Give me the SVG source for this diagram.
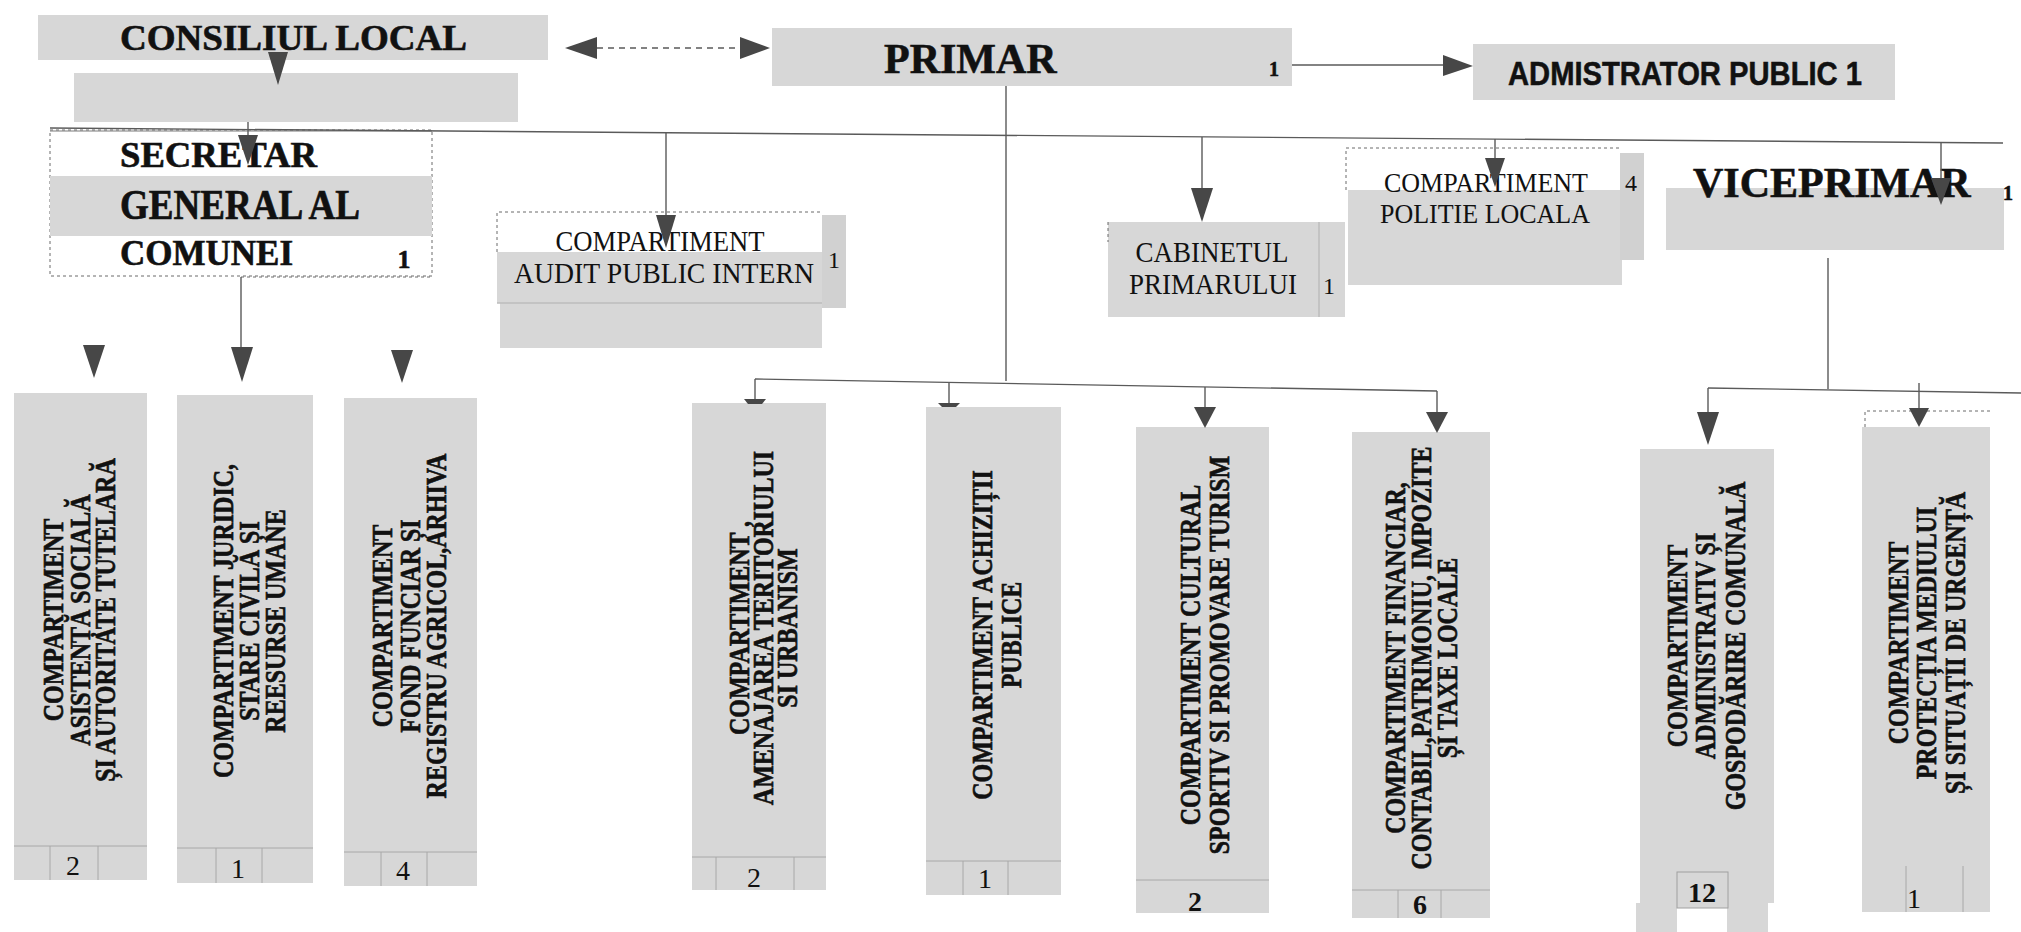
<svg xmlns="http://www.w3.org/2000/svg" width="2021" height="932" viewBox="0 0 2021 932">
<style>
.box{fill:#d7d7d7}
.strip{fill:#d1d1d1}
.wht{fill:#ffffff}
.dash{fill:none;stroke:#6a6a6a;stroke-width:1;stroke-dasharray:3 3}
.thin{fill:none;stroke:#7a7a7a;stroke-width:1}
.ln{fill:none;stroke:#5a5a5a;stroke-width:1.4}
.dl{fill:none;stroke:#5a5a5a;stroke-width:1.4;stroke-dasharray:6 5}
.ah{fill:#474747}
.cell{fill:none;stroke:#a8a8a8;stroke-width:1}
.tb{font-family:"Liberation Serif","Times New Roman",serif;font-weight:bold;fill:#111;stroke:#111;stroke-width:0.6}
.tr{font-family:"Liberation Serif","Times New Roman",serif;fill:#111}
.ts{font-family:"Liberation Sans",Arial,sans-serif;font-weight:bold;fill:#111;stroke:#111;stroke-width:0.5}
.vt{font-family:"Liberation Serif","Times New Roman",serif;font-weight:bold;font-size:24px;fill:#111;stroke:#111;stroke-width:0.55;text-anchor:middle}
.num{font-family:"Liberation Serif","Times New Roman",serif;font-size:28px;fill:#111;text-anchor:middle}
.numb{font-family:"Liberation Serif","Times New Roman",serif;font-size:28px;font-weight:bold;fill:#111;text-anchor:middle}
</style>

<g id="n-consiliul">
<rect class="box" x="38" y="15" width="510" height="45"/>
<text class="tb" x="120" y="50" font-size="36" textLength="347" lengthAdjust="spacingAndGlyphs">CONSILIUL LOCAL</text>
</g>
<g id="n-blank">
<rect class="box" x="74" y="73" width="444" height="49"/>
</g>
<g id="n-primar">
<rect class="box" x="772" y="28" width="520" height="58"/>
<text class="tb" x="884" y="73" font-size="42">PRIMAR</text>
<text class="tb" x="1274" y="76" font-size="20" text-anchor="middle">1</text>
</g>
<g id="n-admin">
<rect class="box" x="1473" y="44" width="422" height="56"/>
<text class="ts" font-size="30" transform="translate(1508,85) scale(1,1.12)" textLength="354" lengthAdjust="spacingAndGlyphs">ADMISTRATOR PUBLIC 1</text>
</g>
<g id="n-secretar">
<rect class="wht" x="50" y="130" width="382" height="146"/>
<rect class="dash" x="50" y="130" width="382" height="146"/>
<line class="thin" x1="50" y1="131" x2="432" y2="131"/>
<rect class="box" x="50" y="176" width="382" height="60"/>
<line class="dash" x1="241" y1="277" x2="432" y2="277"/>
<text class="tb" x="120" y="167" font-size="35" textLength="197" lengthAdjust="spacingAndGlyphs">SECRETAR</text>
<text class="tb" font-size="36" transform="translate(120,219) scale(1,1.15)" textLength="240" lengthAdjust="spacingAndGlyphs">GENERAL AL</text>
<text class="tb" x="120" y="265" font-size="35">COMUNEI</text>
<text class="tb" x="404" y="268" font-size="26" text-anchor="middle">1</text>
</g>
<g id="n-audit">
<rect class="wht" x="497" y="212" width="325" height="40"/>
<path class="dash" d="M497,252 V212 H822"/>
<rect class="box" x="497" y="252" width="325" height="51"/>
<rect class="box" x="500" y="303" width="322" height="45"/>
<line x1="497" y1="303" x2="822" y2="303" stroke="#bdbdbd" stroke-width="1.5"/>
<rect class="strip" x="822" y="215" width="24" height="93"/>
<text class="tr" font-size="27" text-anchor="middle" transform="translate(660,251) scale(1,1.08)" textLength="209" lengthAdjust="spacingAndGlyphs">COMPARTIMENT</text>
<text class="tr" font-size="27" text-anchor="middle" transform="translate(664,283) scale(1,1.08)" textLength="300" lengthAdjust="spacingAndGlyphs">AUDIT PUBLIC INTERN</text>
<text class="tr" x="834" y="268" font-size="24" text-anchor="middle" fill="#555">1</text>
</g>
<g id="n-cabinet">
<rect class="box" x="1108" y="222" width="237" height="95"/>
<line x1="1319" y1="222" x2="1319" y2="317" stroke="#bdbdbd" stroke-width="1.5"/>
<line class="dash" x1="1108" y1="222" x2="1108" y2="242"/>
<text class="tr" font-size="27" text-anchor="middle" transform="translate(1212,262) scale(1,1.12)">CABINETUL</text>
<text class="tr" font-size="27" text-anchor="middle" transform="translate(1213,294) scale(1,1.12)">PRIMARULUI</text>
<text class="tr" x="1329" y="294" font-size="24" text-anchor="middle">1</text>
</g>
<g id="n-politie">
<rect class="wht" x="1346" y="148" width="276" height="42"/>
<path class="dash" d="M1346,190 V148 H1622"/>
<rect class="box" x="1348" y="190" width="274" height="95"/>
<rect class="strip" x="1620" y="153" width="24" height="107"/>
<text class="tr" font-size="26" text-anchor="middle" transform="translate(1486,192) scale(1,1.08)">COMPARTIMENT</text>
<text class="tr" font-size="26" text-anchor="middle" transform="translate(1485,223) scale(1,1.08)">POLITIE LOCALA</text>
<text class="tr" x="1631" y="191" font-size="24" text-anchor="middle" fill="#555">4</text>
</g>
<g id="n-vice">
<rect class="box" x="1666" y="188" width="338" height="62"/>
<text class="tb" x="1693" y="197" font-size="42">VICEPRIMAR</text>
<text class="tb" x="2008" y="200" font-size="20" text-anchor="middle">1</text>
</g>

<g id="n-b1">
<rect class="box" x="14" y="393" width="133" height="487"/>
<path class="cell" d="M14,846 H147 M50,846 V880 M98,846 V880"/>
<text class="num" x="73" y="875">2</text>
<g transform="translate(63,620) rotate(-90) scale(1,1.2)">
<text class="vt" y="0">COMPARTIMENT</text>
<text class="vt" y="22.5">ASISTENȚĂ SOCIALĂ</text>
<text class="vt" y="43">ȘI AUTORITATE TUTELARĂ</text>
</g>
</g>
<g id="n-b2">
<rect class="box" x="177" y="395" width="136" height="488"/>
<path class="cell" d="M177,848 H313 M216,848 V883 M262,848 V883"/>
<text class="num" x="238" y="878">1</text>
<g transform="translate(233,621) rotate(-90) scale(1,1.2)">
<text class="vt" y="0">COMPARTIMENT JURIDIC,</text>
<text class="vt" y="21.7">STARE CIVILĂ ȘI</text>
<text class="vt" y="43.3">REESURSE UMANE</text>
</g>
</g>
<g id="n-b3">
<rect class="box" x="344" y="398" width="133" height="488"/>
<path class="cell" d="M344,852 H477 M381,852 V886 M427,852 V886"/>
<text class="num" x="403" y="880">4</text>
<g transform="translate(392,626) rotate(-90) scale(1,1.2)">
<text class="vt" y="0">COMPARTIMENT</text>
<text class="vt" y="23.3">FOND FUNCIAR ȘI</text>
<text class="vt" y="45">REGISTRU AGRICOL,ARHIVA</text>
</g>
</g>
<g id="n-b4">
<rect class="box" x="692" y="403" width="134" height="487"/>
<path class="cell" d="M692,857 H826 M716,857 V890 M794,857 V890"/>
<text class="num" x="754" y="887">2</text>
<g transform="translate(749,628) rotate(-90) scale(1,1.2)">
<text class="vt" y="0">COMPARTIMENT ,</text>
<text class="vt" y="19.6">AMENAJAREA TERITORIULUI</text>
<text class="vt" y="39.6">SI URBANISM</text>
</g>
</g>
<g id="n-b5">
<rect class="box" x="926" y="407" width="135" height="488"/>
<path class="cell" d="M926,861 H1061 M963,861 V895 M1008,861 V895"/>
<text class="num" x="985" y="888">1</text>
<g transform="translate(992,635) rotate(-90) scale(1,1.2)">
<text class="vt" y="0">COMPARTIMENT ACHIZIȚII</text>
<text class="vt" y="24.2">PUBLICE</text>
</g>
</g>
<g id="n-b6">
<rect class="box" x="1136" y="427" width="133" height="486"/>
<path class="cell" d="M1136,880 H1269"/>
<text class="numb" x="1195" y="911">2</text>
<g transform="translate(1200,655) rotate(-90) scale(1,1.2)">
<text class="vt" y="0">COMPARTIMENT CULTURAL</text>
<text class="vt" y="24.2">SPORTIV SI PROMOVARE TURISM</text>
</g>
</g>
<g id="n-b7">
<rect class="box" x="1352" y="432" width="138" height="486"/>
<path class="cell" d="M1352,890 H1490 M1398,890 V918 M1441,890 V918"/>
<text class="numb" x="1420" y="914">6</text>
<g transform="translate(1405,658) rotate(-90) scale(1,1.2)">
<text class="vt" y="0">COMPARTIMENT FINANCIAR,</text>
<text class="vt" y="21.7">CONTABIL,PATRIMONIU, IMPOZITE</text>
<text class="vt" y="43.3">ȘI TAXE LOCALE</text>
</g>
</g>
<g id="n-b8">
<rect class="box" x="1640" y="449" width="134" height="454"/>
<rect class="box" x="1636" y="903" width="41" height="29"/>
<rect class="box" x="1727" y="903" width="41" height="29"/>
<rect class="box" x="1677" y="872" width="51" height="36" stroke="#a0a0a0" stroke-width="1"/>
<text class="numb" x="1702" y="902">12</text>
<g transform="translate(1687,646) rotate(-90) scale(1,1.2)">
<text class="vt" y="0">COMPARTIMENT</text>
<text class="vt" y="23.3">ADMINISTRATIV ȘI</text>
<text class="vt" y="48.3">GOSPODĂRIRE COMUNALĂ</text>
</g>
</g>
<g id="n-b9">
<path class="dash" d="M1865,427 V411 H1993"/>
<rect class="box" x="1862" y="427" width="128" height="485"/>
<path class="cell" d="M1906,866 V912 M1963,866 V912"/>
<text class="num" x="1914" y="908">1</text>
<g transform="translate(1908,643) rotate(-90) scale(1,1.2)">
<text class="vt" y="0">COMPARTIMENT</text>
<text class="vt" y="23.3">PROTECȚIA MEDIULUI</text>
<text class="vt" y="47.5">ȘI SITUAȚII DE URGENȚĂ</text>
</g>
</g>

<g id="connectors">
<polygon class="ah" points="268,52 288,52 278,85"/>
<line class="dl" x1="597" y1="48" x2="740" y2="48"/>
<polygon class="ah" points="597,37 597,59 565,48"/>
<polygon class="ah" points="740,37 740,59 770,48"/>
<line class="ln" x1="1292" y1="65" x2="1443" y2="65"/>
<polygon class="ah" points="1443,55 1443,76 1473,66"/>
<line class="ln" x1="50" y1="128" x2="2003" y2="143"/>
<line class="ln" x1="248" y1="122" x2="248" y2="135"/>
<polygon class="ah" points="238,135 258,135 248,165"/>
<line class="ln" x1="666" y1="133" x2="666" y2="215"/>
<polygon class="ah" points="656,215 676,215 666,248"/>
<line class="ln" x1="1006" y1="86" x2="1006" y2="381"/>
<line class="ln" x1="1202" y1="137" x2="1202" y2="188"/>
<polygon class="ah" points="1191,188 1213,188 1202,222"/>
<line class="ln" x1="1495" y1="139" x2="1495" y2="158"/>
<polygon class="ah" points="1485,158 1505,158 1495,187"/>
<line class="ln" x1="1941" y1="143" x2="1941" y2="178"/>
<polygon class="ah" points="1931,178 1951,178 1941,205"/>
<line class="ln" x1="241" y1="277" x2="241" y2="347"/>
<polygon class="ah" points="231,347 253,347 242,382"/>
<polygon class="ah" points="83,345 105,345 94,378"/>
<polygon class="ah" points="391,350 413,350 402,383"/>
<line class="ln" x1="755" y1="379" x2="1437" y2="391"/>
<line class="ln" x1="755" y1="379" x2="755" y2="399"/>
<polygon class="ah" points="744,399 766,399 762,404 748,404"/>
<line class="ln" x1="949" y1="383" x2="949" y2="403"/>
<polygon class="ah" points="938,403 960,403 956,407 942,407"/>
<line class="ln" x1="1205" y1="387" x2="1205" y2="407"/>
<polygon class="ah" points="1194,407 1216,407 1205,428"/>
<line class="ln" x1="1437" y1="391" x2="1437" y2="412"/>
<polygon class="ah" points="1426,412 1448,412 1437,433"/>
<line class="ln" x1="1828" y1="258" x2="1828" y2="389"/>
<line class="ln" x1="1708" y1="388" x2="2021" y2="393"/>
<line class="ln" x1="1708" y1="388" x2="1708" y2="412"/>
<polygon class="ah" points="1697,412 1719,412 1708,445"/>
<line class="ln" x1="1919" y1="383" x2="1919" y2="408"/>
<polygon class="ah" points="1909,408 1929,408 1919,427"/>
</g>
</svg>
